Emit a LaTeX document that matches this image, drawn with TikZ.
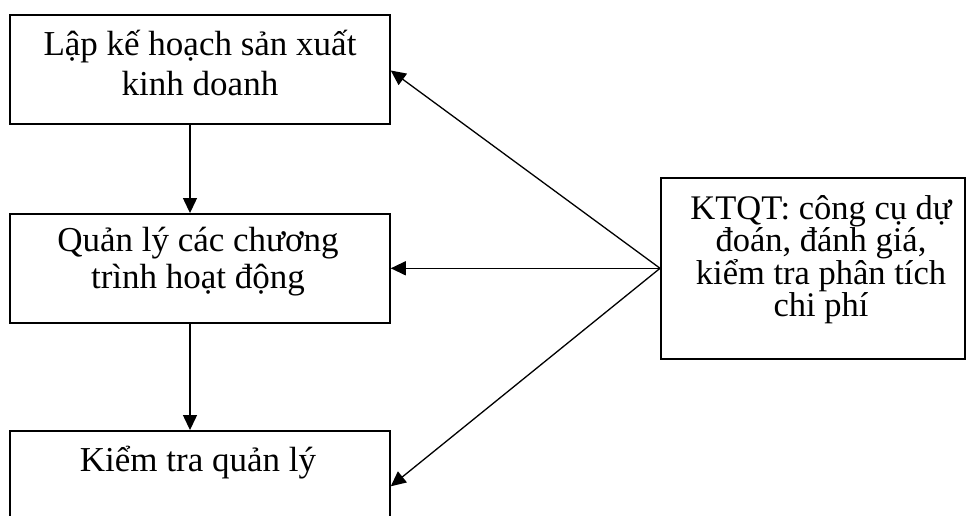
\documentclass[tikz,border=0pt]{standalone}
\usepackage{fontspec}
\setmainfont{Liberation Serif}
\usetikzlibrary{arrows.meta}
\begin{document}
\begin{tikzpicture}[x=1pt,y=-1pt,
  box/.style={draw, line width=1.5pt, minimum width=380pt, minimum height=109pt, inner sep=0pt},
  kbox/.style={draw, line width=1.5pt, minimum width=304pt, minimum height=181pt, inner sep=0pt},
  txt/.style={align=center, inner sep=0pt, anchor=base},
  arr/.style={line width=1.3pt, -{Triangle[length=15pt,width=14pt]}}]
\useasboundingbox (0,0) rectangle (972,516);
\fill[white] (0,0) rectangle (972,516);
\clip (0,0) rectangle (972,516);
\node[box] (b1) at (200,69.5) {};
\node[box] (b2) at (200,268.3) {};
\node[box] (b3) at (200,485.3) {};
\node[kbox] (k) at (812.8,268.3) {};
\node[txt, font=\fontsize{35}{40}\selectfont] (t1) at (200,95.5) {Lập kế hoạch sản xuất\\kinh doanh};
\node[txt, font=\fontsize{35}{37}\selectfont] (t2) at (198,288.5) {Quản lý các chương\\trình hoạt động};
\node[txt, font=\fontsize{35}{37}\selectfont] (t3) at (198,471.7) {Kiểm tra quản lý};
\node[txt, font=\fontsize{34.5}{32}\selectfont] (t4) at (821,316.7) {KTQT: công cụ dự\\đoán, đánh giá,\\kiểm tra phân tích\\chi phí};
\draw[arr] ([xshift=-10pt]b1.south) -- ([xshift=-10pt]b2.north);
\draw[arr] ([xshift=-10pt]b2.south) -- ([xshift=-10pt]b3.north);
\draw[arr] (k.west) -- ([yshift=-1pt]b1.east);
\draw[arr] (k.west) -- (b2.east);
\draw[arr] (k.west) -- ([yshift=-1pt]b3.east);
\end{tikzpicture}
\end{document}
